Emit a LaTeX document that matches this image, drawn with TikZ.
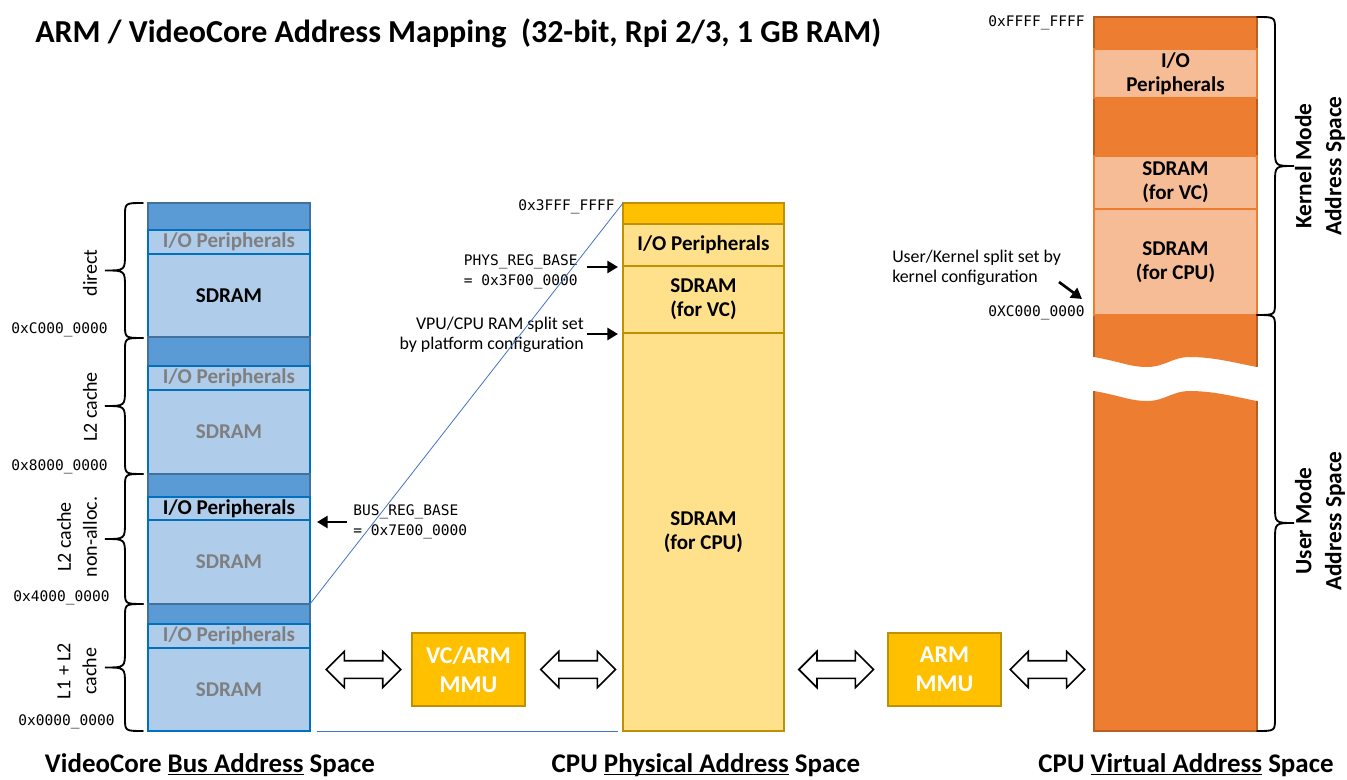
\documentclass[tikz,border=0pt]{standalone}
\usepackage{fontspec}
\setmainfont{Carlito}
\setmonofont{DejaVu Sans Mono}
\usetikzlibrary{arrows.meta,positioning,calc,shapes.arrows}

\definecolor{vcdark}{HTML}{5B9BD5}
\definecolor{vclight}{HTML}{AFCCEA}
\definecolor{vcline}{HTML}{0070C0}
\definecolor{vcouter}{HTML}{41719C}
\definecolor{physdark}{HTML}{FFC000}
\definecolor{physlight}{HTML}{FFE18C}
\definecolor{physline}{HTML}{BF9000}
\definecolor{virtdark}{HTML}{ED7D31}
\definecolor{virtlight}{HTML}{F5BC95}
\definecolor{virtouter}{HTML}{B85E22}
\definecolor{mapblue}{HTML}{4472C4}
\definecolor{txtgray}{HTML}{7F7F7F}

\newcommand{\uladdr}[1]{\underline{\smash{#1}}}
% braces: top, bottom
\newcommand{\bracel}[2]{%
  \pgfmathsetmacro\brmid{(#1+#2)/2}
  \draw[brc] (143,#1) .. controls (125,#1) .. (125,#1+13) -- (125,\brmid-17)
    .. controls (125,\brmid) .. (105,\brmid) .. controls (125,\brmid) .. (125,\brmid+17)
    -- (125,#2-13) .. controls (125,#2) .. (143,#2);}
\newcommand{\bracer}[2]{%
  \pgfmathsetmacro\brmid{(#1+#2)/2}
  \draw[brc] (1257,#1) .. controls (1275,#1) .. (1275,#1+13) -- (1275,\brmid-17)
    .. controls (1275,\brmid) .. (1294,\brmid) .. controls (1275,\brmid) .. (1275,\brmid+17)
    -- (1275,#2-13) .. controls (1275,#2) .. (1257,#2);}

\begin{document}
\begin{tikzpicture}[x=0.75pt, y=-0.75pt, node distance=0pt,
  seg/.style={inner sep=0pt, outer sep=0pt, line width=1.5pt, font=\bfseries\fontsize{15.8}{18}\selectfont, align=center},
  segh/.style={minimum height=#1*0.75pt},
  vcband/.style={seg, minimum width=121.5pt, fill=vcdark, draw=vcouter, line width=1pt},
  vcbox/.style={seg, minimum width=121.5pt, fill=vclight, draw=vcline, text=txtgray},
  physband/.style={seg, minimum width=120.75pt, fill=physdark, draw=physline},
  physbox/.style={seg, minimum width=120.75pt, fill=physlight, draw=physline},
  virtband/.style={seg, minimum width=122.25pt, fill=virtdark},
  virtbox/.style={seg, minimum width=122.25pt, fill=virtlight, draw=virtdark},
  mmu/.style={seg, minimum width=84.75pt, minimum height=54.75pt, fill=physdark, draw=physline, text=white, font=\bfseries\fontsize{18}{22}\selectfont},
  dblarrow/.style={double arrow, draw, fill=white, line width=1.2pt, minimum height=56pt, minimum width=26pt, inner sep=6pt, double arrow head extend=7pt},
  addr/.style={font=\ttfamily\fontsize{10.9}{15}\selectfont, anchor=east, inner sep=0pt},
  note/.style={font=\fontsize{13.4}{15}\selectfont, inner sep=0pt},
  side/.style={font=\fontsize{15}{19.5}\selectfont, rotate=90, align=center, inner sep=0pt},
  caption/.style={font=\bfseries\fontsize{20.2}{24}\selectfont, anchor=base, inner sep=0pt},
  ann/.style={-{Triangle[length=8pt,width=9pt]}, line width=2pt},
  mapline/.style={mapblue, line width=0.6pt},
  brc/.style={line width=1.4pt, line cap=round}]
  \useasboundingbox (0,0) rectangle (1347,780);
  \node[font=\bfseries\fontsize{24}{28}\selectfont, anchor=base west, inner sep=0pt] (title) at (35,43)
    {ARM / VideoCore Address Mapping~ (32-bit, Rpi 2/3, 1 GB RAM)};

  % VideoCore bus address space
  \node[vcband, segh=27, anchor=north west] (vcband3) at (148,203) {};
  \node[vcbox, segh=24, below=of vcband3] (vcio3) {I/O Peripherals};
  \node[vcbox, segh=83, below=of vcio3, text=black] (vcmem3) {SDRAM};
  \node[vcband, segh=29, below=of vcmem3] (vcband2) {};
  \node[vcbox, segh=24, below=of vcband2] (vcio2) {I/O Peripherals};
  \node[vcbox, segh=84, below=of vcio2] (vcmem2) {SDRAM};
  \node[vcband, segh=23, below=of vcmem2] (vcband1) {};
  \node[vcbox, segh=23, below=of vcband1, text=black] (vcio1) {I/O Peripherals};
  \node[vcbox, segh=84, below=of vcio1] (vcmem1) {SDRAM};
  \node[vcband, segh=20, below=of vcmem1] (vcband0) {};
  \node[vcbox, segh=24, below=of vcband0] (vcio0) {I/O Peripherals};
  \node[vcbox, segh=83, below=of vcio0] (vcmem0) {SDRAM};

  \bracel{203}{338}
  \bracel{338}{474}
  \bracel{474}{604}
  \bracel{604}{731}
  \node[side] (direct) at (90,273) {direct};
  \node[side] (l2) at (90,407) {L2 cache};
  \node[side] (l2na) at (77,537) {L2 cache\\non-alloc.};
  \node[side] (l1l2) at (77,671) {L1 + L2\\cache};
  \node[addr] (vcaddr3) at (108,330) {0xC000\_0000};
  \node[addr] (vcaddr2) at (108,467) {0x8000\_0000};
  \node[addr] (vcaddr1) at (110,598) {0x4000\_0000};
  \node[addr] (vcaddr0) at (115,722) {0x0000\_0000};

  % CPU physical address space
  \node[physband, segh=21, anchor=north west] (physband) at (623,203) {};
  \node[physbox, segh=42, below=of physband] (physio) {I/O Peripherals};
  \node[physbox, segh=67, below=of physio] (physvc) {SDRAM\\(for VC)};
  \node[physbox, segh=398, below=of physvc] (physcpu) {SDRAM\\(for CPU)};
  \node[addr] (phystop) at (615,207) {0x3FFF\_FFFF};
  \node[addr, align=left] (physreg) at (578,272) {PHYS\_REG\_BASE\\= 0x3F00\_0000};
  \draw[ann] ($(physreg.east)+(9,-5)$) -- ($(physvc.north west)+(-5,1)$);
  \node[note, align=right, anchor=east] (split) at (584,335) {VPU/CPU RAM split set\\by platform configuration};
  \draw[ann] ($(split.east)+(3,-1)$) -- ($(physcpu.north west)+(-5,1)$);
  \node[addr, align=left, anchor=west] (busreg) at (353,522) {BUS\_REG\_BASE\\= 0x7E00\_0000};
  \draw[ann] ($(busreg.west)+(-6,0)$) -- ($(vcmem1.north east)+(7,2)$);

  \draw[mapline] (vcband0.north east) -- (physband.north west);
  \draw[mapline, shorten <=5pt, shorten >=4pt] (vcmem0.south east) -- (physcpu.south west);

  % CPU virtual address space
  \fill[virtdark] (1094,315) -- (1094,357) .. controls (1122,362) and (1130,367) .. (1147,367)
    .. controls (1165,367) and (1172,357) .. (1190,357) .. controls (1215,357) and (1240,364) .. (1257,367)
    -- (1257,315) -- cycle;
  \fill[virtdark] (1094,391) .. controls (1122,396) and (1130,401) .. (1147,401)
    .. controls (1165,401) and (1172,391) .. (1190,391) .. controls (1215,391) and (1240,398) .. (1257,401)
    -- (1257,731) -- (1094,731) -- cycle;
  \node[virtband, segh=32, anchor=north west] (virtband3) at (1094,17) {};
  \node[virtband, segh=58, anchor=north west] (virtband2) at (1094,98) {};
  \draw[virtouter, line width=1pt] (1094,357) -- (1094,17) -- (1257,17) -- (1257,367);
  \draw[virtouter, line width=1pt] (1094,391) -- (1094,731) -- (1257,731) -- (1257,401);
  \node[virtbox, segh=49, below=of virtband3] (virtio) {I/O\\Peripherals};
  \node[virtbox, segh=53, below=of virtband2] (virtvc) {SDRAM\\(for VC)};
  \node[virtbox, segh=106, below=of virtvc] (virtcpu) {SDRAM\\(for CPU)};
  \node[addr] (virttop) at (1085,23) {0xFFFF\_FFFF};
  \node[addr] (virtsplit) at (1085,313) {0XC000\_0000};
  \node[note, align=left, anchor=west] (uksplit) at (892,268) {User/Kernel split set by\\kernel configuration};
  \coordinate (ukfrom) at (1059,282);
  \draw[ann] (ukfrom) -- ($(virtcpu.south west)+(-12,-16)$);

  \bracer{17}{315}
  \bracer{315}{731}
  \node[side, font=\bfseries\fontsize{17.5}{22.5}\selectfont] (kernel) at (1320,166) {Kernel Mode\\Address Space};
  \node[side, font=\bfseries\fontsize{17.5}{22.5}\selectfont] (user) at (1320,521) {User Mode\\Address Space};

  % MMUs
  \node[mmu] (vcmmu) at (468.5,669.5) {VC/ARM\\MMU};
  \node[mmu] (armmmu) at (944.5,669.5) {ARM\\MMU};
  \node[dblarrow, left=7.5pt of vcmmu] (busarrow) {};
  \node[dblarrow, right=11pt of vcmmu] (physarrowl) {};
  \node[dblarrow, left=10pt of armmmu] (physarrowr) {};
  \node[dblarrow, right=6pt of armmmu] (virtarrow) {};

  \node[caption] (vccap) at (210,772) {VideoCore \uladdr{Bus Address} Space};
  \node[caption] (physcap) at (706,772) {CPU \uladdr{Physical Address} Space};
  \node[caption] (virtcap) at (1186,772) {CPU \uladdr{Virtual Address} Space};
\end{tikzpicture}
\end{document}
